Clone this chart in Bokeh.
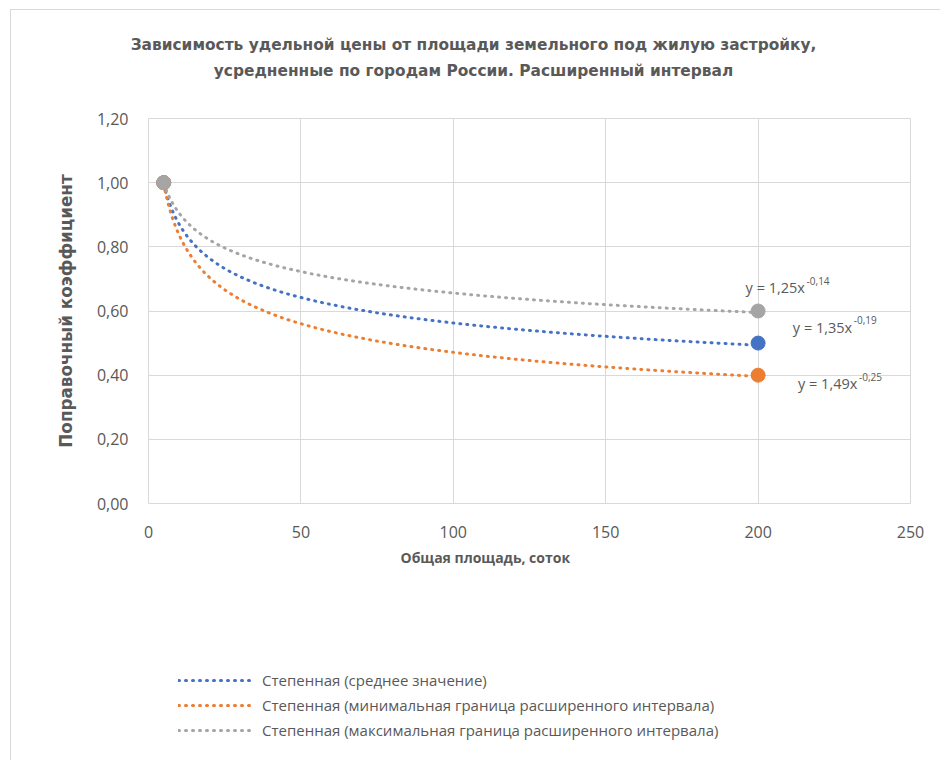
from bokeh.plotting import figure
from bokeh.layouts import column, row
from bokeh.models import Range1d, Label, Legend, LegendItem, Title, FixedTicker
from bokeh.embed import file_html
from bokeh.resources import INLINE
import numpy as np

# ---- data ----
area = [5, 200]
mean_vals = [1.00, 0.50]
min_vals = [1.00, 0.40]
max_vals = [1.00, 0.60]

# power trendlines y = a * x^b (equations shown on the chart)
mean_a, mean_b = 1.35, -0.19
min_a, min_b = 1.49, -0.25
max_a, max_b = 1.25, -0.14

x_ticks = [0, 50, 100, 150, 200, 250]
x_tick_labels = ["0", "50", "100", "150", "200", "250"]
y_ticks = [0.0, 0.2, 0.4, 0.6, 0.8, 1.0, 1.2]
y_tick_labels = ["0,00", "0,20", "0,40", "0,60", "0,80", "1,00", "1,20"]

title_line1 = "Зависимость удельной цены от площади земельного под жилую застройку,"
title_line2 = "усредненные по городам России. Расширенный интервал"
x_title = "Общая площадь, соток"
y_title = "Поправочный коэффициент"

legend_labels = [
    "Степенная (среднее значение)",
    "Степенная (минимальная граница расширенного интервала)",
    "Степенная (максимальная граница расширенного интервала)",
]
eq_main = ["y = 1,35x", "y = 1,49x", "y = 1,25x"]
eq_sup = ["-0,19", "-0,25", "-0,14"]

BLUE = "#4472c4"
ORANGE = "#ed7d31"
GRAY = "#a5a5a5"
TXT = "#595959"
FONT = "Open Sans"
TFONT = "DejaVu Sans"

OX, OY = 11, 10                      # chart-area border offset (page pixels)
W = 929
HT, H1, H2 = 90, 500, 160            # title strip, chart, legend strip
FL, FR = 148, 910                    # frame left / right in page pixels
FT, FB = 118, 503                    # frame top / bottom in page pixels


def strip(height):
    f = figure(width=W, height=height, output_backend="svg", toolbar_location=None,
               x_axis_type=None, y_axis_type=None, min_border=0)
    f.outline_line_color = None
    f.xgrid.visible = False
    f.ygrid.visible = False
    f.background_fill_color = "white"
    f.border_fill_color = "white"
    return f


# ---- title strip (coordinates = page pixels) ----
head = strip(HT)
head.x_range = Range1d(OX, OX + W)
head.y_range = Range1d(OY + HT, OY)
for txt, ty in [(title_line1, 44), (title_line2, 70)]:
    head.add_layout(Label(x=473, y=ty, text=txt, text_align="center",
                          text_baseline="middle", text_font=TFONT,
                          text_font_size="15.4px", text_font_style="bold",
                          text_color=TXT))

# ---- chart ----
top = OY + HT
p = figure(width=W, height=H1, output_backend="svg", toolbar_location=None,
           x_range=Range1d(0, 250), y_range=Range1d(0, 1.2),
           min_border_left=FL - OX, min_border_right=OX + W - FR,
           min_border_top=FT - top, min_border_bottom=top + H1 - FB)
p.background_fill_color = "white"
p.border_fill_color = "white"
p.outline_line_color = "#d9d9d9"

for ax in (p.xaxis[0], p.yaxis[0]):
    ax.axis_line_color = None
    ax.major_tick_line_color = None
    ax.minor_tick_line_color = None
    ax.major_label_text_font = FONT
    ax.major_label_text_font_size = "16px"
    ax.major_label_text_color = TXT

p.xaxis.ticker = FixedTicker(ticks=x_ticks)
p.xaxis.major_label_overrides = {t: l for t, l in zip(x_ticks, x_tick_labels)}
p.yaxis.ticker = FixedTicker(ticks=y_ticks)
p.yaxis.major_label_overrides = {t: l for t, l in zip(y_ticks, y_tick_labels)}
p.xaxis.major_label_standoff = 16
p.yaxis.major_label_standoff = 14

p.yaxis.axis_label = y_title
p.yaxis.axis_label_text_font = TFONT
p.yaxis.axis_label_text_font_size = "16.8px"
p.yaxis.axis_label_text_font_style = "bold"
p.yaxis.axis_label_text_color = TXT
p.yaxis.axis_label_standoff = 18

# x-axis title (placed left of centre as in the reference)
xt = Title(text=x_title, align="left", offset=252, text_font=FONT,
           text_font_size="14px", text_font_style="bold", text_color=TXT)
p.add_layout(xt, "below")

p.xgrid.grid_line_color = "#d9d9d9"
p.ygrid.grid_line_color = "#d9d9d9"
p.xgrid.ticker = FixedTicker(ticks=x_ticks)
p.ygrid.ticker = FixedTicker(ticks=y_ticks)

colors = [BLUE, ORANGE, GRAY]
coefs = [(mean_a, mean_b), (min_a, min_b), (max_a, max_b)]
series = [mean_vals, min_vals, max_vals]

# trendlines
xs = np.linspace(min(area), max(area), 400)
for col, (a, b) in zip(colors, coefs):
    p.line(xs, a * xs ** b, line_color=col, line_width=3, line_dash="1 6",
           line_cap="round")

# data points
for vals, col in zip(series, colors):
    p.scatter(area, vals, size=14, color=col)

# trendline equations
eq_pos = [(211.4, 0.549), (213.1, 0.374), (195.9, 0.673)]
for (ex, ey), m, s in zip(eq_pos, eq_main, eq_sup):
    p.add_layout(Label(x=ex, y=ey, text=m, text_font=FONT, text_font_size="14.5px",
                       text_color=TXT, text_baseline="middle"))
    p.add_layout(Label(x=ex, y=ey, x_offset=61, y_offset=7, text=s, text_font=FONT,
                       text_font_size="10px", text_color=TXT, text_baseline="middle"))

# ---- legend strip below the chart ----
q = strip(H2)
q.x_range = Range1d(0, 1)
q.y_range = Range1d(0, 1)
items = []
for col, lab, vals in zip(colors, legend_labels, series):
    # real series drawn outside this strip's view; only its legend glyph shows
    r = q.line(area, vals, line_color=col, line_width=3, line_dash="1 6",
               line_cap="round")
    items.append(LegendItem(label=lab, renderers=[r]))
legend = Legend(items=items, location=(30, 20), orientation="vertical",
                glyph_width=77, glyph_height=20, label_height=20, spacing=5,
                label_standoff=7, padding=0, margin=0,
                label_text_font=FONT, label_text_font_size="15px",
                label_text_color=TXT, border_line_color=None,
                background_fill_alpha=0)
q.add_layout(legend, "center")

layout = column(row(head), p, q, spacing=0, margin=(OY - 1, 0, 0, OX - 1),
                styles={"border-left": "1px solid #d9d9d9",
                        "border-top": "1px solid #d9d9d9"})
open("out.html", "w").write(file_html(layout, INLINE))
